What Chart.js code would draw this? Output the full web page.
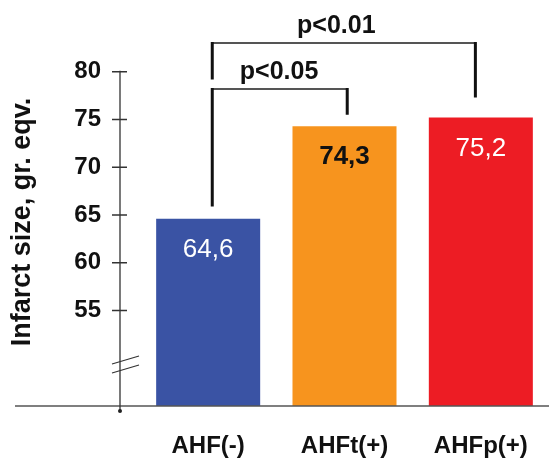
<!DOCTYPE html>
<html>
<head>
<meta charset="utf-8">
<script src="https://cdn.jsdelivr.net/npm/chart.js@4.4.0/dist/chart.umd.min.js"></script>
<style>
  html, body { margin: 0; padding: 0; background: #fff; }
</style>
</head>
<body>
<canvas id="myChart" width="549" height="463"></canvas>
<script>
const groups = ["AHF(-)", "AHFt(+)", "AHFp(+)"];
const infarctSize = [64.6, 74.3, 75.2];
const valueLabels = ["64,6", "74,3", "75,2"];
const yTicks = [55, 60, 65, 70, 75, 80];
const yTitle = "Infarct size, gr. eqv.";

const barColors = ["#3a53a4", "#f7941e", "#ed1c24"];
const labelColors = ["#ffffff", "#111111", "#ffffff"];

// significance brackets: x in category units, heights in axis units
const brackets = [
  { text: "p<0.05", from: 0.03, to: 1.02, level: 78.2, fromEnd: 65.9, toEnd: 75.5, textAt: 0.52 },
  { text: "p<0.01", from: 0.03, to: 1.96, level: 83.0, fromEnd: 79.2, toEnd: 77.3, textAt: 0.94 },
];

const narrow = "'Liberation Sans Narrow', 'Arial Narrow', 'Liberation Sans', sans-serif";
const sans = "'Liberation Sans', Arial, sans-serif";

const extras = {
  id: "extras",
  afterDraw(chart) {
    const c = chart.ctx;
    const area = chart.chartArea;
    const y = chart.scales.y;
    const x = chart.scales.x;
    const axisX = area.left - 20;

    c.save();
    // baseline
    c.strokeStyle = "#555";
    c.lineWidth = 1.5;
    c.beginPath();
    c.moveTo(15, area.bottom);
    c.lineTo(chart.width, area.bottom);
    c.stroke();

    // y axis line with ticks
    c.strokeStyle = "#333";
    c.lineWidth = 1.3;
    c.beginPath();
    c.moveTo(axisX, y.getPixelForValue(80) - 1);
    c.lineTo(axisX, area.bottom + 5);
    yTicks.forEach((v) => {
      const py = y.getPixelForValue(v);
      c.moveTo(axisX - 8, py);
      c.lineTo(axisX + 7, py);
    });
    c.stroke();
    c.fillStyle = "#222";
    c.beginPath();
    c.arc(axisX, area.bottom + 5, 2, 0, Math.PI * 2);
    c.fill();

    // axis break
    const by = y.getPixelForValue(49.4);
    c.strokeStyle = "#333";
    c.lineWidth = 1.2;
    c.beginPath();
    c.moveTo(axisX - 8, by + 0);
    c.lineTo(axisX + 19, by - 8);
    c.moveTo(axisX - 8, by + 9);
    c.lineTo(axisX + 19, by + 1);
    c.stroke();

    // value labels inside bars
    const meta = chart.getDatasetMeta(0);
    c.textAlign = "center";
    c.textBaseline = "middle";
    meta.data.forEach((bar, i) => {
      c.font = (i === 1 ? "bold " : "") + "26px " + sans;
      c.fillStyle = labelColors[i];
      c.fillText(valueLabels[i], bar.x, bar.y + 31);
    });

    // brackets
    brackets.forEach((b) => {
      const x0 = x.getPixelForValue(b.from);
      const x1 = x.getPixelForValue(b.to);
      const ly = y.getPixelForValue(b.level);
      c.strokeStyle = "#555";
      c.lineWidth = 2;
      c.beginPath();
      c.moveTo(x0, ly);
      c.lineTo(x1, ly);
      c.stroke();
      c.strokeStyle = "#111";
      c.lineWidth = 3;
      c.beginPath();
      c.moveTo(x0, ly - 1);
      c.lineTo(x0, y.getPixelForValue(b.fromEnd));
      c.moveTo(x1, ly - 1);
      c.lineTo(x1, y.getPixelForValue(b.toEnd));
      c.stroke();
      c.font = "bold 25px " + sans;
      c.fillStyle = "#111";
      c.textBaseline = "alphabetic";
      c.fillText(b.text, x.getPixelForValue(b.textAt), ly - 10);
    });

    // y title
    c.translate(23, 222);
    c.rotate(-Math.PI / 2);
    c.font = "bold 27px " + sans;
    c.fillStyle = "#111";
    c.textAlign = "center";
    c.textBaseline = "middle";
    c.fillText(yTitle, 0, 0);
    c.restore();
  },
};

const ctx = document.getElementById("myChart");

new Chart(ctx, {
  type: "bar",
  data: {
    labels: groups,
    datasets: [
      {
        data: infarctSize,
        backgroundColor: barColors,
        borderWidth: 0,
        barPercentage: 0.763,
        categoryPercentage: 1,
      },
    ],
  },
  options: {
    responsive: false,
    animation: false,
    layout: { padding: { top: 24, left: 0, right: 0, bottom: 0 } },
    plugins: { legend: { display: false }, tooltip: { enabled: false } },
    scales: {
      x: {
        grid: { display: false, drawTicks: true, tickLength: 26 },
        border: { display: false },
        ticks: {
          color: "#111",
          padding: 0,
          font: { family: sans, size: 24, weight: "bold" },
        },
        afterFit: (scale) => {
          scale.height = 57;
        },
      },
      y: {
        min: 45,
        max: 85,
        grid: { display: false, drawTicks: true, tickLength: 39 },
        border: { display: false },
        ticks: {
          color: "#111",
          padding: 0,
          font: { family: narrow, size: 24, weight: "bold" },
        },
        afterBuildTicks: (scale) => {
          scale.ticks = yTicks.map((v) => ({ value: v }));
        },
        afterFit: (scale) => {
          scale.width = 140;
        },
      },
    },
  },
  plugins: [extras],
});
</script>
</body>
</html>
